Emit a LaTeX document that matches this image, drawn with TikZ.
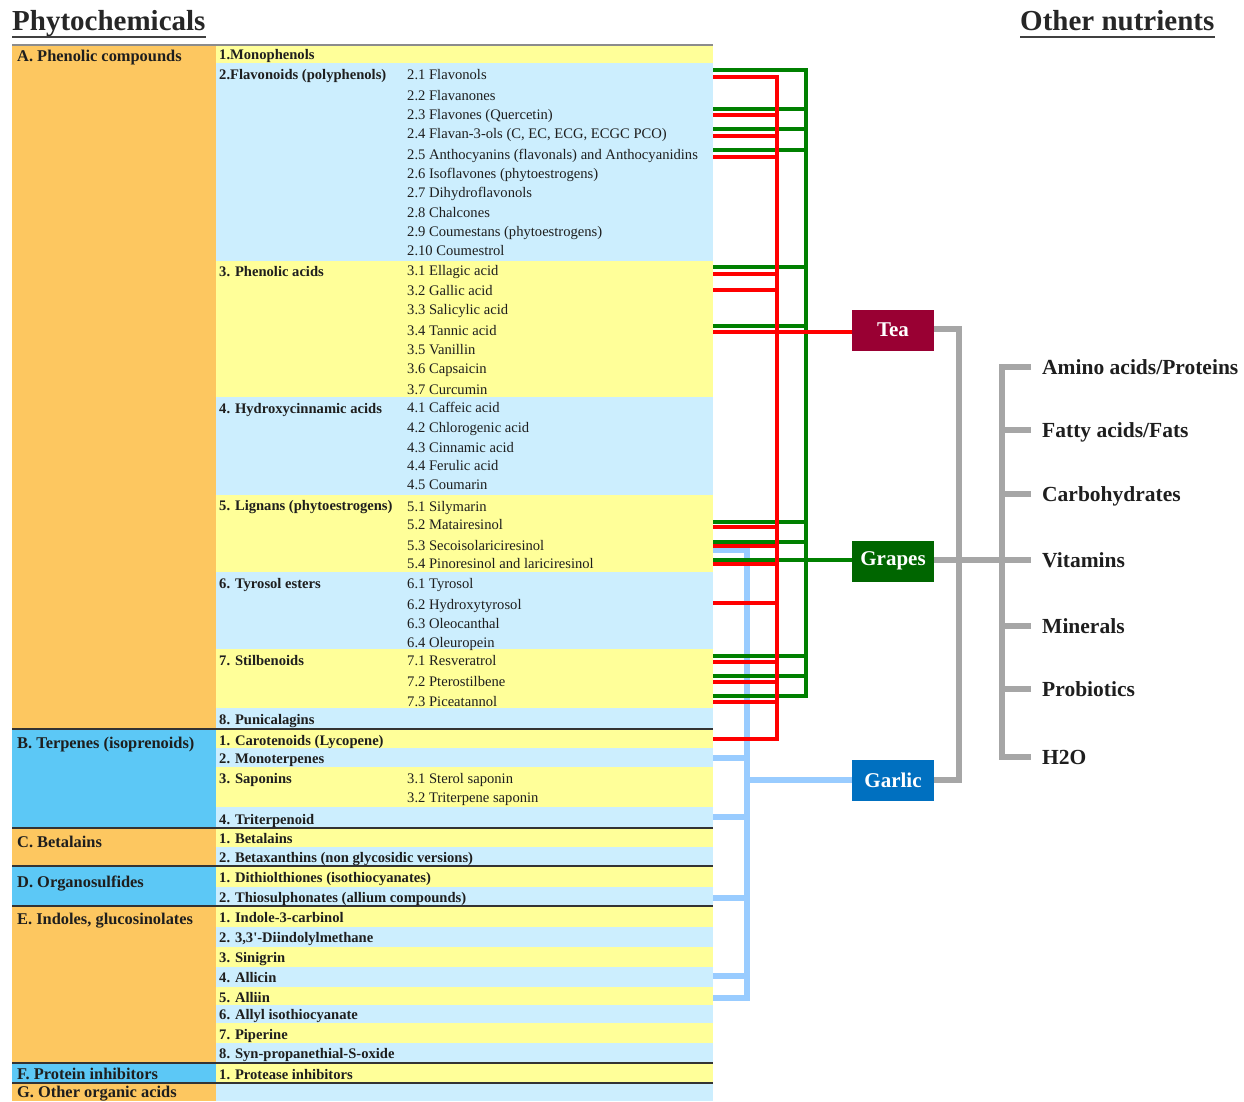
\documentclass[tikz,border=0pt]{standalone}
\usepackage{fontspec}
\setmainfont{Liberation Serif}
\definecolor{catO}{HTML}{FDC760}
\definecolor{catB}{HTML}{5CC8F6}
\definecolor{rowY}{HTML}{FFFF99}
\definecolor{rowB}{HTML}{CCEEFE}
\definecolor{teaC}{HTML}{990033}
\definecolor{grapesC}{HTML}{006600}
\definecolor{garlicC}{HTML}{0070C0}
\definecolor{lnR}{HTML}{FF0000}
\definecolor{lnG}{HTML}{008000}
\definecolor{lnB}{HTML}{99CCFF}
\definecolor{lnGray}{HTML}{A6A6A6}
\definecolor{txt}{HTML}{1E1E1E}
\begin{document}
\begin{tikzpicture}[x=1pt,y=-1pt,
  cat/.style={anchor=base west,inner sep=0pt,text=txt,font=\fontsize{16.4}{18}\selectfont\bfseries},
  sub/.style={anchor=base west,inner sep=0pt,text=txt,font=\fontsize{14.6}{16}\selectfont\bfseries},
  item/.style={anchor=base west,inner sep=0pt,text=txt,font=\fontsize{14.6}{16}\selectfont},
  head/.style={anchor=base west,inner sep=0pt,text=black!85,font=\fontsize{29}{32}\selectfont\bfseries},
  nutr/.style={anchor=base west,inner sep=0pt,text=txt,font=\fontsize{21.5}{24}\selectfont\bfseries},
  food/.style={minimum width=82pt,minimum height=41pt,inner sep=0pt,text=white,font=\fontsize{21}{24}\selectfont\bfseries},
  sepline/.style={draw=black!80,line width=1.6pt},
  redl/.style={draw=lnR,line width=3.2pt},
  greenl/.style={draw=lnG,line width=3.2pt},
  bluel/.style={draw=lnB,line width=5.5pt},
  grayl/.style={draw=lnGray,line width=5.5pt}]
\useasboundingbox (0,0) rectangle (1244,1101);

% ---------- headings ----------
\node[head] (phyto) at (12,30) {Phytochemicals};
\node[head] (other) at (1020,30) {Other nutrients};
\draw[black!75,line width=1.8pt] ([yshift=-7pt]phyto.base west) -- ([yshift=-7pt]phyto.base east);
\draw[black!75,line width=1.8pt] ([yshift=-7pt]other.base west) -- ([yshift=-7pt]other.base east);

% ---------- table backgrounds ----------
\foreach \a/\b/\c in {45/63/rowY,63/261/rowB,261/397/rowY,397/495/rowB,495/572/rowY,572/649/rowB,649/708/rowY,708/729/rowB,
  729/748/rowY,748/767/rowB,767/807/rowY,807/828/rowB,828/847/rowY,847/866/rowB,866/887/rowY,887/906/rowB,
  906/927/rowY,927/947/rowB,947/967/rowY,967/987/rowB,987/1005/rowY,1005/1023/rowB,1023/1043/rowY,1043/1063/rowB,
  1063/1083/rowY,1083/1101/rowB}
  \fill[\c] (216,\a) rectangle (713,\b);
\foreach \a/\b/\c in {45/729/catO,729/828/catB,828/866/catO,866/906/catB,906/1063/catO,1063/1083/catB,1083/1101/catO}
  \fill[\c] (12,\a) rectangle (216,\b);
\draw[draw=black!45,line width=2pt] (12,45) -- (713,45);
\foreach \y in {729,828,866,906,1063,1083}
  \draw[sepline] (12,\y) -- (713,\y);

% ---------- category column ----------
\foreach \y/\t [count=\i] in {56/A. Phenolic compounds,743/B. Terpenes (isoprenoids),842/C. Betalains,882/D. Organosulfides,
  919/{E. Indoles, glucosinolates},1074/F. Protein inhibitors,1092/G. Other organic acids}
  \node[cat,name=cat\i] at (17,\y+5.5) {\t};

% ---------- second column ----------
\foreach \y/\t [count=\i] in {54/1.Monophenols,74/2.Flavonoids (polyphenols),271/3. Phenolic acids,408/4. Hydroxycinnamic acids,
  505/5. Lignans (phytoestrogens),583/6. Tyrosol esters,660/7. Stilbenoids,719/8. Punicalagins,
  740/1. Carotenoids (Lycopene),758/2. Monoterpenes,778/3. Saponins,819/4. Triterpenoid,
  838/1. Betalains,857/2. Betaxanthins (non glycosidic versions),
  877/1. Dithiolthiones (isothiocyanates),897/2. Thiosulphonates (allium compounds),
  917/1. Indole-3-carbinol,937/{2. 3,3\textquotesingle-Diindolylmethane},957/3. Sinigrin,977/4. Allicin,997/5. Alliin,
  1014/6. Allyl isothiocyanate,1034/7. Piperine,1053/8. Syn-propanethial-S-oxide,1074/1. Protease inhibitors}
  \node[sub,name=sub\i] at (219,\y+5) {\t};

% ---------- third column ----------
\foreach \y/\t [count=\i] in {74/2.1 Flavonols,95/2.2 Flavanones,114/2.3 Flavones (Quercetin),
  133/{2.4 Flavan-3-ols (C, EC, ECG, ECGC PCO)},154/2.5 Anthocyanins (flavonals) and Anthocyanidins,
  173/2.6 Isoflavones (phytoestrogens),192/2.7 Dihydroflavonols,212/2.8 Chalcones,231/2.9 Coumestans (phytoestrogens),
  250/2.10 Coumestrol,
  270/3.1 Ellagic acid,290/3.2 Gallic acid,309/3.3 Salicylic acid,330/3.4 Tannic acid,349/3.5 Vanillin,368/3.6 Capsaicin,389/3.7 Curcumin,
  407/4.1 Caffeic acid,427/4.2 Chlorogenic acid,447/4.3 Cinnamic acid,465/4.4 Ferulic acid,484/4.5 Coumarin,
  506/5.1 Silymarin,524/5.2 Matairesinol,545/5.3 Secoisolariciresinol,563/5.4 Pinoresinol and lariciresinol,
  583/6.1 Tyrosol,604/6.2 Hydroxytyrosol,623/6.3 Oleocanthal,642/6.4 Oleuropein,
  660/7.1 Resveratrol,681/7.2 Pterostilbene,701/7.3 Piceatannol,
  778/3.1 Sterol saponin,797/3.2 Triterpene saponin}
  \node[item,name=it\i] at (407,\y+5) {\t};

% ---------- food boxes ----------
\node[food,fill=teaC] (tea) at (893,330) {Tea};
\node[food,fill=grapesC] (grapes) at (893,561) {Grapes};
\node[food,fill=garlicC] (garlic) at (893,780) {Garlic};

% ---------- nutrients ----------
\node[nutr] (n1) at (1042,374) {Amino acids/Proteins};
\node[nutr] (n2) at (1042,437) {Fatty acids/Fats};
\node[nutr] (n3) at (1042,501) {Carbohydrates};
\node[nutr] (n4) at (1042,567) {Vitamins};
\node[nutr] (n5) at (1042,633) {Minerals};
\node[nutr] (n6) at (1042,696) {Probiotics};
\node[nutr] (n7) at (1042,764) {H2O};

% ---------- connector anchor points on the table edge ----------
\coordinate (rx) at (777,0);
\coordinate (gx) at (806,0);
\coordinate (bx) at (747,0);
\foreach \n/\y in {r1/77,r2/115,r3/136,r4/157,r5/274,r6/290,r7/332,r8/527,r9/546,r10/564,r11/603,r12/662,r13/682,r14/702,r15/739}
  \coordinate (\n) at (713,\y);
\foreach \n/\y in {g1/70,g2/109,g3/129,g4/150,g5/267,g6/326,g7/522,g8/542,g9/560,g10/656,g11/676,g12/696}
  \coordinate (\n) at (713,\y);
\foreach \n/\y in {b1/550,b2/758,b3/817,b4/898,b5/976,b6/998}
  \coordinate (\n) at (713,\y);

% ---------- garlic (blue) ----------
\draw[bluel] (b1) -| (bx |- b6) -- (b6);
\foreach \n in {b2,b3,b4,b5} \draw[bluel] (\n) -- (\n -| bx);
\draw[bluel] (bx |- garlic.west) -- (garlic.west);

% ---------- grapes (green) ----------
\draw[greenl] (g1) -| (gx |- g12) -- (g12);
\foreach \n in {g2,g3,g4,g5,g6,g7,g8,g10,g11} \draw[greenl] (\n) -- (\n -| gx);
\draw[greenl] (g9) -- (g9 -| grapes.west);

% ---------- tea (red) ----------
\draw[redl] (r1) -| (rx |- r15) -- (r15);
\foreach \n in {r2,r3,r4,r5,r6,r8,r9,r10,r11,r12,r13,r14} \draw[redl] (\n) -- (\n -| rx);
\draw[redl] (r7) -- (r7 -| tea.west);

% ---------- gray connectors ----------
\coordinate (tx) at (959,0);
\coordinate (nx) at (1002,0);
\draw[grayl] (tea.east |- 0,329) -| (tx |- garlic.east) -- (garlic.east);
\draw[grayl] (grapes.east |- 0,560) -- (nx |- 0,560);
\foreach \y [count=\i] in {367,430,494,560,626,689,757}
  \coordinate (s\i) at (1031,\y);
\draw[grayl] (s1) -| (nx |- s7) -- (s7);
\foreach \i in {2,3,4,5,6} \draw[grayl] (s\i) -- (s\i -| nx);
\end{tikzpicture}
\end{document}
